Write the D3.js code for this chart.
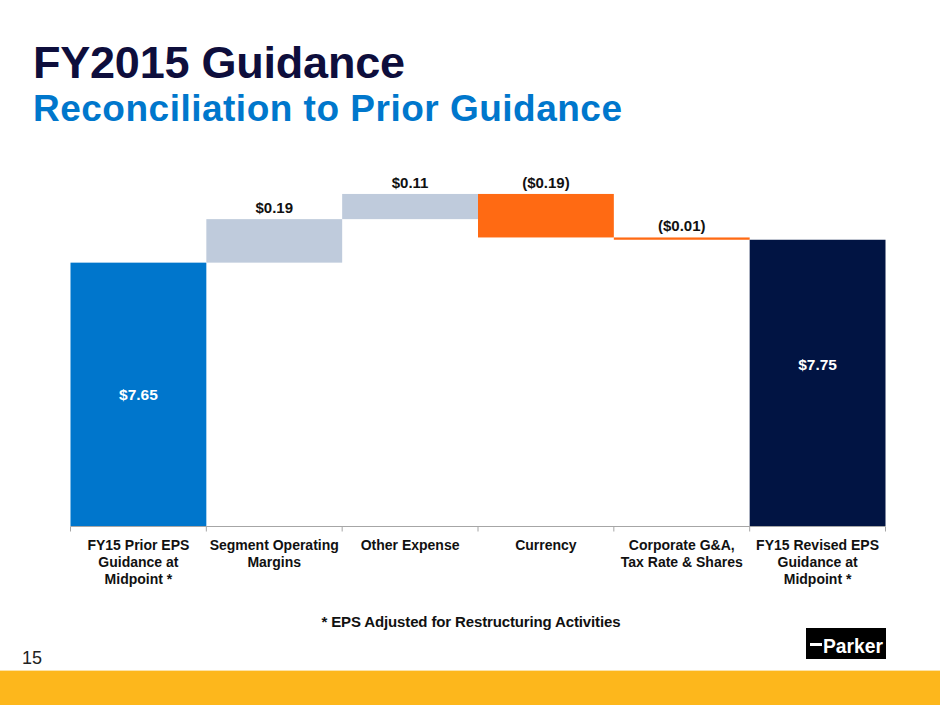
<!DOCTYPE html>
<html>
<head>
<meta charset="utf-8">
<script src="https://cdn.jsdelivr.net/npm/d3@7"></script>
<style>
  body { margin: 0; background: #fff; }
  svg { display: block; font-family: "Liberation Sans", Arial, sans-serif; }
</style>
</head>
<body>
<svg id="chart" width="940" height="705"></svg>
<script>
const categories = [
  ["FY15 Prior EPS", "Guidance at", "Midpoint *"],
  ["Segment Operating", "Margins"],
  ["Other Expense"],
  ["Currency"],
  ["Corporate G&A,", "Tax Rate & Shares"],
  ["FY15 Revised EPS", "Guidance at", "Midpoint *"]
];
const kinds = ["total", "delta", "delta", "delta", "delta", "total"];
const values = [7.65, 0.19, 0.11, -0.19, -0.01, 7.75];
const labels = ["$7.65", "$0.19", "$0.11", "($0.19)", "($0.01)", "$7.75"];

const svg = d3.select("#chart");

// waterfall steps
let run = 0;
const bars = values.map((v, i) => {
  let lo, hi;
  if (kinds[i] === "total") { lo = null; hi = v; run = v; }
  else { lo = run; hi = run + v; run = hi; }
  return { i, v, lo, hi, kind: kinds[i] };
});

const x = d3.scaleBand().domain(d3.range(categories.length)).range([70.5, 885.5]).padding(0);
const y = d3.scaleLinear().domain([6.5, 8.0]).range([526, 182.5]);

const color = d => {
  if (d.i === 0) return "#0076cc";
  if (d.i === categories.length - 1) return "#011443";
  return d.v >= 0 ? "#bfcbdc" : "#ff6a13";
};

svg.append("g").selectAll("rect")
  .data(bars)
  .join("rect")
  .attr("x", d => x(d.i))
  .attr("width", x.bandwidth())
  .attr("y", d => d.kind === "total" ? y(d.hi) : y(Math.max(d.lo, d.hi)))
  .attr("height", d => d.kind === "total" ? y.range()[0] - y(d.hi) : Math.abs(y(d.lo) - y(d.hi)))
  .attr("fill", color);

// value labels above the change bars
svg.append("g").selectAll("text")
  .data(bars.filter(d => d.kind === "delta"))
  .join("text")
  .attr("x", d => x(d.i) + x.bandwidth() / 2)
  .attr("y", d => y(Math.max(d.lo, d.hi)) - 6)
  .attr("text-anchor", "middle")
  .attr("font-weight", "bold")
  .attr("font-size", 15)
  .attr("fill", "#111")
  .text(d => labels[d.i]);

// labels inside the totals
svg.append("g").selectAll("text")
  .data(bars.filter(d => d.kind === "total"))
  .join("text")
  .attr("x", d => x(d.i) + x.bandwidth() / 2)
  .attr("y", d => d.i === 0 ? (y(d.hi) + y.range()[0]) / 2 + 6 : y(d.hi) + 130)
  .attr("text-anchor", "middle")
  .attr("font-weight", "bold")
  .attr("font-size", 15.5)
  .attr("fill", "#fff")
  .text(d => labels[d.i]);

// x axis
const axis = svg.append("g").attr("transform", "translate(0,526.5)");
axis.append("line")
  .attr("x1", x.range()[0]).attr("x2", x.range()[1])
  .attr("stroke", "#a6a6a6");
axis.selectAll("line.tick")
  .data(d3.range(categories.length + 1))
  .join("line")
  .attr("class", "tick")
  .attr("x1", i => i < categories.length ? x(i) : x.range()[1])
  .attr("x2", i => i < categories.length ? x(i) : x.range()[1])
  .attr("y1", 0).attr("y2", 5)
  .attr("stroke", "#a6a6a6");
axis.selectAll("text")
  .data(categories)
  .join("text")
  .attr("x", (d, i) => x(i) + x.bandwidth() / 2)
  .attr("y", 23.5)
  .attr("text-anchor", "middle")
  .attr("font-weight", "bold")
  .attr("font-size", 14)
  .attr("fill", "#111")
  .each(function (d) {
    d3.select(this).selectAll("tspan")
      .data(d)
      .join("tspan")
      .attr("x", d3.select(this).attr("x"))
      .attr("dy", (t, j) => j === 0 ? 0 : 17)
      .text(t => t);
  });

// titles
svg.append("text").attr("x", 33).attr("y", 78)
  .attr("font-size", 45).attr("font-weight", "bold").attr("fill", "#0e0e3c")
  .attr("textLength", 372)
  .text("FY2015 Guidance");
svg.append("text").attr("x", 33).attr("y", 121)
  .attr("font-size", 37).attr("font-weight", "bold").attr("fill", "#0077cc")
  .attr("textLength", 589)
  .text("Reconciliation to Prior Guidance");

// footnote, page number
svg.append("text").attr("x", 471).attr("y", 627)
  .attr("text-anchor", "middle").attr("font-size", 15).attr("font-weight", "bold").attr("fill", "#111")
  .attr("textLength", 299)
  .text("*  EPS Adjusted for Restructuring Activities");
svg.append("text").attr("x", 22).attr("y", 664)
  .attr("font-size", 18).attr("fill", "#222")
  .text("15");

// logo
svg.append("rect").attr("x", 806).attr("y", 628).attr("width", 80).attr("height", 31).attr("fill", "#000");
svg.append("rect").attr("x", 810).attr("y", 643).attr("width", 12).attr("height", 3).attr("fill", "#fff");
svg.append("text").attr("x", 853).attr("y", 653)
  .attr("text-anchor", "middle").attr("font-size", 20).attr("font-weight", "bold")
  .attr("fill", "#fff").attr("textLength", 60).attr("lengthAdjust", "spacingAndGlyphs")
  .text("Parker");

// bottom band
svg.append("rect").attr("x", 0).attr("y", 670).attr("width", 940).attr("height", 1).attr("fill", "#fde3a6");
svg.append("rect").attr("x", 0).attr("y", 671).attr("width", 940).attr("height", 34).attr("fill", "#fdb71c");
</script>
</body>
</html>
